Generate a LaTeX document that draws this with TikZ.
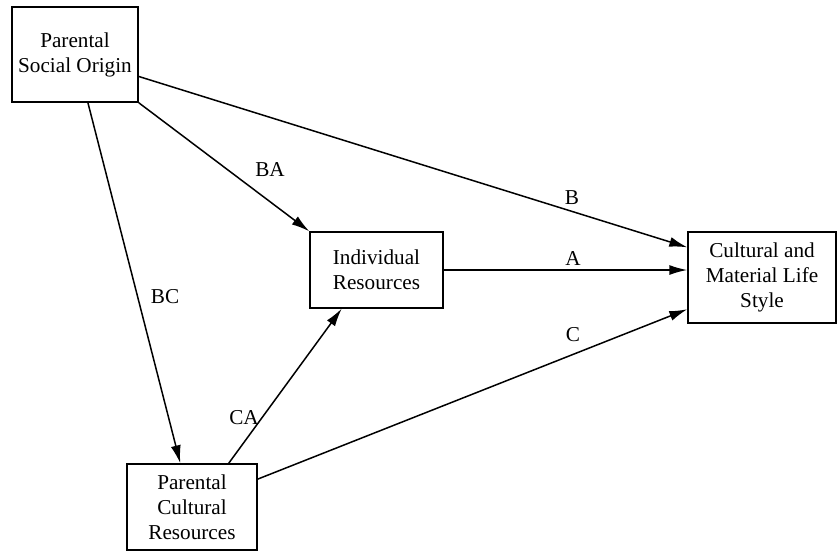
\documentclass[tikz,border=0pt]{standalone}
\usepackage{fontspec}
\setmainfont{Liberation Serif}
\usetikzlibrary{arrows.meta}

\tikzset{
  varbox/.style={draw, line width=0.7pt, align=center, inner sep=0pt,
    font=\fontsize{10.6}{12.5}\selectfont},
  path/.style={line width=0.75pt, -{Latex[length=9pt,width=5pt]}},
  lab/.style={font=\fontsize{10.6}{12.5}\selectfont}
}

\begin{document}
\begin{tikzpicture}[x=0.5pt, y=-0.5pt]
\useasboundingbox (0,0) rectangle (838,553);

\node[varbox, minimum width=63pt, minimum height=47.5pt] (pso) at (75,54.5) {Parental\\Social Origin};
\node[varbox, minimum width=66.5pt, minimum height=38pt] (ir) at (376.5,270) {Individual\\Resources};
\node[varbox, minimum width=74pt, minimum height=45.5pt] (cmls) at (762,277.5) {Cultural and\\Material Life\\Style};
\node[varbox, minimum width=65pt, minimum height=43pt] (pcr) at (192,507) {Parental\\Cultural\\Resources};

\draw[path] (pso.south east) -- (ir.north west);
\draw[path] (pso.-19.7) -- (cmls.158.3);
\draw[path] (pso.-75.8) -- (pcr.105.6);
\draw[path] (ir.east) -- (ir.east -| cmls.west);
\draw[path] (pcr.50.9) -- (ir.-132.2);
\draw[path] (pcr.23.3) -- (cmls.-157.6);

\node[lab] at (270,170) {BA};
\node[lab] at (572,198) {B};
\node[lab] at (573,258) {A};
\node[lab] at (573,335) {C};
\node[lab] at (165,297) {BC};
\node[lab] at (244,418) {CA};
\end{tikzpicture}
\end{document}
